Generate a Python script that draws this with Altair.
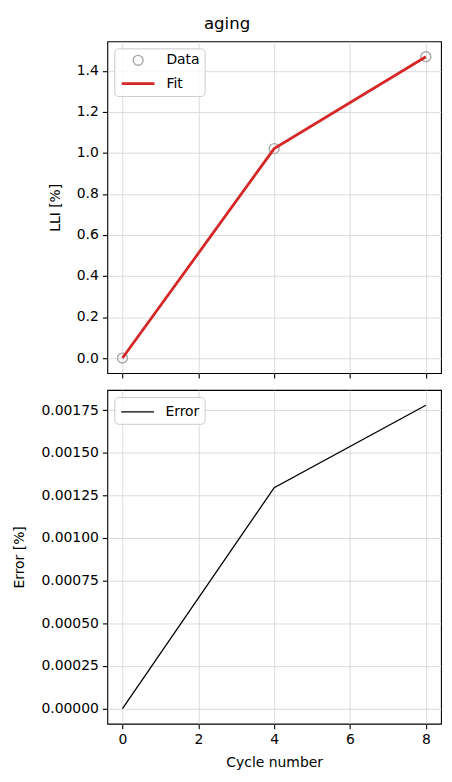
import altair as alt
import pandas as pd

cycles = [0, 4, 8]
lli_data = [0.0, 1.021, 1.469]
lli_fit = [0.0, 1.021, 1.469]
error_vals = [0.0, 0.001295, 0.001779]

x_ticks = [0, 2, 4, 6, 8]
lli_ticks = [0.0, 0.2, 0.4, 0.6, 0.8, 1.0, 1.2, 1.4]
err_ticks = [0.0, 0.00025, 0.0005, 0.00075, 0.001, 0.00125, 0.0015, 0.00175]

FONT = "DejaVu Sans"
FS = 14
HANDLE = "M-1.83,0H1.83"

top_df = pd.DataFrame(
    {"cycle": cycles * 2, "value": lli_data + lli_fit, "series": ["Data"] * 3 + ["Fit"] * 3}
)
err_df = pd.DataFrame({"cycle": cycles, "value": error_vals, "series": ["Error"] * 3})

x_scale = alt.Scale(domain=[-0.4, 8.4], nice=False, zero=False)

def make_legend(**kw):
    return alt.Legend(
        orient="top-left",
        title=None,
        offset=7,
        padding=5,
        cornerRadius=4,
        strokeColor="#cccccc",
        fillColor="rgba(255,255,255,0.8)",
        labelFont=FONT,
        labelFontSize=FS,
        labelColor="black",
        labelOffset=18,
        symbolOffset=8.5,
        symbolOpacity=1,
        **kw,
    )

top_domain = ["Data", "Fit"]
color_top = alt.Color(
    "series:O",
    scale=alt.Scale(domain=top_domain, range=["#a8a8a8", "#d62728"]),
    legend=make_legend(),
)
shape_top = alt.Shape(
    "series:O",
    scale=alt.Scale(domain=top_domain, range=["circle", HANDLE]),
    legend=make_legend(),
)
size_top = alt.Size(
    "series:O",
    scale=alt.Scale(domain=top_domain, range=[100, 324]),
    legend=make_legend(),
)
sw_top = alt.StrokeWidth(
    "series:O",
    scale=alt.Scale(domain=top_domain, range=[1.4, 2.8]),
    legend=make_legend(),
)

x_top = alt.X(
    "cycle:Q",
    scale=x_scale,
    axis=alt.Axis(values=x_ticks, labels=False, title=None, tickSize=5),
)
y_top = alt.Y(
    "value:Q",
    scale=alt.Scale(domain=[-0.0735, 1.5435], nice=False, zero=False),
    axis=alt.Axis(values=lli_ticks, format=".1f", title="LLI [%]", tickSize=5, titlePadding=14),
)

pts = (
    alt.Chart(top_df)
    .transform_filter(alt.datum.series == "Data")
    .mark_point(filled=False, opacity=1)
    .encode(x=x_top, y=y_top, color=color_top, shape=shape_top, size=size_top, strokeWidth=sw_top)
)
fit = (
    alt.Chart(top_df)
    .transform_filter(alt.datum.series == "Fit")
    .mark_line(color="#d62728", strokeWidth=2.8)
    .encode(x=x_top, y=y_top)
)
top = alt.layer(pts, fit).properties(width=336, height=334)

bottom = (
    alt.Chart(err_df)
    .mark_line(strokeWidth=1.3)
    .encode(
        x=alt.X(
            "cycle:Q",
            scale=x_scale,
            axis=alt.Axis(values=x_ticks, format="d", title="Cycle number", tickSize=5, titlePadding=9),
        ),
        y=alt.Y(
            "value:Q",
            scale=alt.Scale(domain=[-0.000089, 0.001868], nice=False, zero=False),
            axis=alt.Axis(values=err_ticks, format=".5f", title="Error [%]", tickSize=5, titlePadding=14),
        ),
        color=alt.Color(
            "series:N",
            scale=alt.Scale(domain=["Error"], range=["black"]),
            legend=make_legend(symbolType=HANDLE, symbolSize=324, symbolStrokeWidth=1.4),
        ),
    )
    .properties(width=336, height=336)
)

chart = (
    alt.vconcat(top, bottom, spacing=9)
    .resolve_scale(color="independent", shape="independent", size="independent", strokeWidth="independent")
    .resolve_legend(color="independent", shape="independent", size="independent", strokeWidth="independent")
    .properties(
        title=alt.TitleParams(
            "aging",
            anchor="middle",
            font=FONT,
            fontSize=16.7,
            fontWeight="normal",
            color="black",
            offset=8,
        ),
        padding={"left": 4, "top": 5, "right": 2, "bottom": 5},
    )
    .configure_view(stroke="black", strokeWidth=1.1)
    .configure_legend(rowPadding=5)
    .configure_axis(
        domain=False,
        grid=True,
        gridColor="#d6d6d6",
        gridWidth=0.9,
        tickColor="black",
        tickWidth=1.1,
        labelFont=FONT,
        labelFontSize=FS,
        labelColor="black",
        labelPadding=4,
        titleFont=FONT,
        titleFontSize=FS,
        titleFontWeight="normal",
        titleColor="black",
    )
)

chart.save("out.html", embed_options={"renderer": "svg", "actions": False})
